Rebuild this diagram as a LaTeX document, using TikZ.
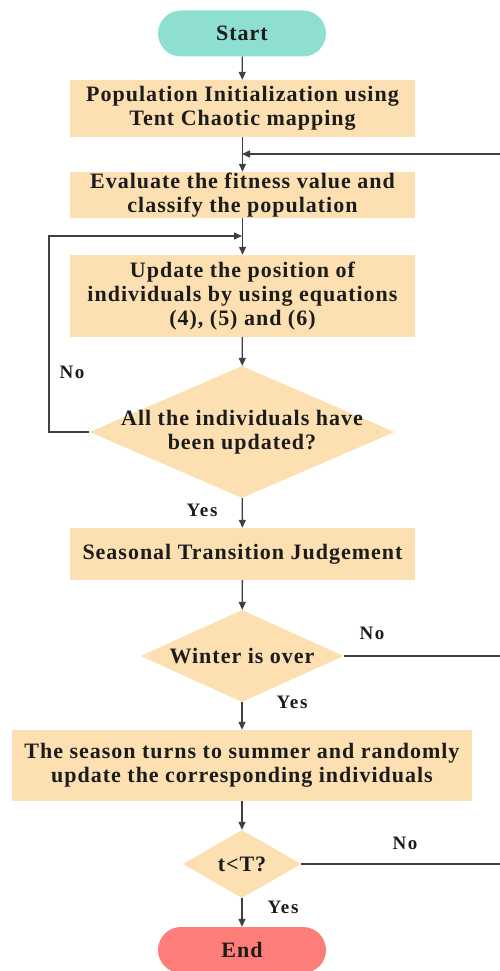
\documentclass[tikz,border=0pt]{standalone}
\usepackage{fontspec}
\setmainfont{Liberation Serif}
\newfontfamily\boxface[LetterSpace=4.5]{Liberation Serif}
\newfontfamily\lblface[LetterSpace=9]{Liberation Serif}
\usetikzlibrary{shapes.geometric,arrows.meta}
\definecolor{boxfill}{RGB}{253,224,178}
\definecolor{startfill}{RGB}{142,223,210}
\definecolor{endfill}{RGB}{253,126,120}
\definecolor{linegray}{RGB}{64,64,64}
\definecolor{txt}{RGB}{28,28,28}
\tikzset{
  txtfont/.style={font=\boxface\bfseries\fontsize{22}{24}\selectfont, text=txt},
  proc/.style={rectangle, fill=boxfill, minimum width=345pt, align=center, inner sep=0pt, txtfont},
  term/.style={rectangle, rounded corners=23pt, minimum width=168pt, minimum height=46pt, inner sep=0pt, txtfont},
  decide/.style={diamond, fill=boxfill, inner sep=0pt},
  lbl/.style={font=\lblface\bfseries\fontsize{19}{20}\selectfont, text=txt},
  line/.style={draw=linegray, line width=1.3pt},
  flow/.style={line, -{Triangle[length=8pt,width=7pt]}}
}
\begin{document}
\begin{tikzpicture}[x=1pt,y=1pt]
      \useasboundingbox (0,0) rectangle (499,-971);
      \node[term, fill=startfill] (start) at (242,-33.5) {Start};
      \node[proc, minimum height=57pt] (init) at (242.5,-108.5) {Population Initialization using\\Tent Chaotic mapping};
      \node[proc, minimum height=46pt] (eval) at (242.5,-195) {Evaluate the fitness value and\\classify the population};
      \node[proc, minimum height=82pt] (update) at (242.5,-296) {Update the position of\\individuals by using equations\\(4), (5) and (6)};
      \node[decide, minimum width=305pt, minimum height=132pt,
        label={[txtfont, align=center]center:All the individuals have\\been updated?}] (allupd) at (242,-432) {};
      \node[proc, minimum height=52pt] (season) at (242.5,-554) {Seasonal Transition Judgement};
      \node[decide, minimum width=203pt, minimum height=92pt,
        label={[txtfont]center:Winter is over}] (winter) at (242,-656) {};
      \node[proc, minimum width=460pt, minimum height=71pt] (summer) at (242,-765.5) {The season turns to summer and randomly\\update the corresponding individuals};
      \node[decide, minimum width=118pt, minimum height=68pt,
        label={[txtfont]center:t<T?}] (iter) at (242,-864) {};
      \node[term, fill=endfill] (end) at (242,-950) {End};
      % branch labels
      \node[lbl] (no1) at (72,-372) {No};
      \node[lbl] (yes1) at (202,-510) {Yes};
      \node[lbl] (no2) at (372,-633) {No};
      \node[lbl] (yes2) at (292,-702) {Yes};
      \node[lbl] (no3) at (405,-843) {No};
      \node[lbl] (yes3) at (283,-907) {Yes};
      % loop points
      \coordinate (join1) at (242,-154);
      \coordinate (join2) at (242,-236);
      \coordinate (lbus) at (49,0);
      \coordinate (rbus) at (507,0);
      \begin{scope}[flow]
        \draw (start) -- (init);
        \draw (init) -- (eval);
        \draw (eval) -- (update);
        \draw (update) -- (allupd);
        \draw (allupd) -- (season);
        \draw (season) -- (winter);
        \draw (winter) -- (summer);
        \draw (summer) -- (iter);
        \draw (iter) -- (end);
        \draw (allupd.west) -- (allupd.west -| lbus) |- (join2);
        \draw (winter.east) -- (winter.east -| rbus) |- (join1);
      \end{scope}
      \draw[line] (iter.east) -- (iter.east -| rbus) -- (winter.east -| rbus);
    \end{tikzpicture}
\end{document}
